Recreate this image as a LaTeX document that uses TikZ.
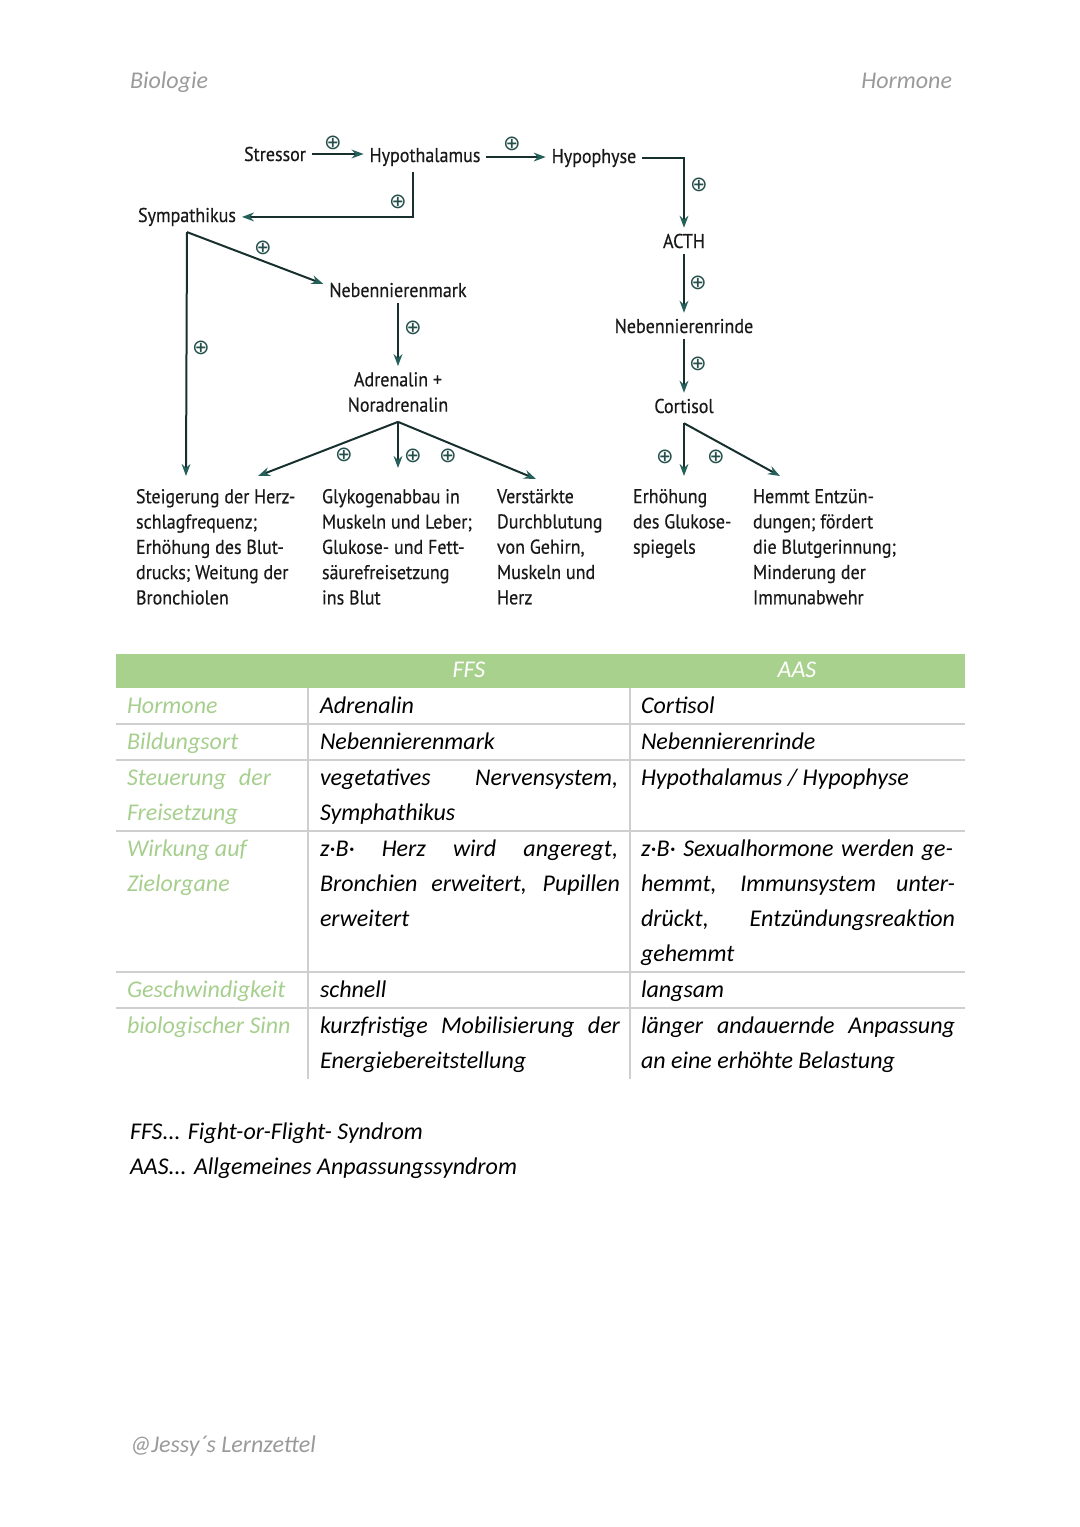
\documentclass[tikz,border=0pt]{standalone}
\usepackage{fontspec}
\setmainfont{PT Sans}
\newfontfamily\diagfont[FakeStretch=0.9, FakeBold=0.4]{PT Sans}
\newfontfamily\handfont{Carlito}
\newfontfamily\symfont{DejaVu Sans}
\usetikzlibrary{arrows.meta}
\definecolor{arrline}{HTML}{17302E}
\definecolor{arrhead}{HTML}{245F5A}
\definecolor{plusc}{HTML}{244F4B}
\definecolor{hdgreen}{HTML}{A9D18E}
\definecolor{lblgreen}{HTML}{A6CF8E}
\definecolor{rulec}{HTML}{CFCFCF}
\definecolor{pagegray}{HTML}{9A9A9A}
\newcommand{\jl}[2]{\makebox[#1][s]{#2}}

\begin{document}
\begin{tikzpicture}[x=0.5pt, y=-0.5pt,
    every node/.style={inner sep=0pt, outer sep=0pt},
    d/.style={font=\diagfont\fontsize{10}{12.65}\selectfont, text=black!90, inner sep=3pt, anchor=base},
    blk/.style={font=\diagfont\fontsize{10}{12.65}\selectfont, text=black!90, anchor=north west, align=left},
    p/.style={text=plusc, font=\symfont\fontsize{10.5}{10.5}\selectfont},
    a/.style={draw=arrline, line width=1pt, -{Stealth[length=6pt, width=4.4pt, color=arrhead]}},
    h/.style={font=\handfont\itshape\fontsize{12}{17.5}\selectfont, anchor=base west},
    lab/.style={h, text=lblgreen},
    gr/.style={draw=rulec, line width=0.8pt},
  ]
  \useasboundingbox (0,0) rectangle (1080,1527);

  % page head and foot
  \node[h, text=pagegray] (subj) at (130,88) {Biologie};
  \node[h, text=pagegray, anchor=base east] (topic) at (952,88) {Hormone};
  \node[h, text=pagegray] (foot) at (130,1452) {@Jessy´s Lernzettel};

  % diagram
  \node[d] (str) at (275,161) {Stressor};
  \node[d] (hth) at (425,162) {Hypothalamus};
  \node[d] (hph) at (594,163) {Hypophyse};
  \node[d] (sym) at (187,222) {Sympathikus};
  \node[d] (nnm) at (398,297) {Nebennierenmark};
  \node[d, anchor=center, align=center] (adr) at (398,392) {Adrenalin +\\Noradrenalin};
  \node[d] (acth) at (684,248) {ACTH};
  \node[d] (nnr) at (684,333) {Nebennierenrinde};
  \node[d] (cort) at (684,413) {Cortisol};

  \node[blk] (wa) at (136,489) {Steigerung der Herz-\\schlagfrequenz;\\Erhöhung des Blut-\\drucks; Weitung der\\Bronchiolen};
  \node[blk] (wb) at (322,489) {Glykogenabbau in\\Muskeln und Leber;\\Glukose- und Fett-\\säurefreisetzung\\ins Blut};
  \node[blk] (wc) at (497,489) {Verstärkte\\Durchblutung\\von Gehirn,\\Muskeln und\\Herz};
  \node[blk] (wd) at (633,489) {Erhöhung\\des Glukose-\\spiegels};
  \node[blk] (we) at (753,489) {Hemmt Entzün-\\dungen; fördert\\die Blutgerinnung;\\Minderung der\\Immunabwehr};

  \coordinate (e1) at (186,476);
  \coordinate (e2) at (258,476);
  \coordinate (e3) at (398,468);
  \coordinate (e4) at (536,479);
  \coordinate (e5) at (684,476);
  \coordinate (e6) at (780,476);

  \draw[a] (str.east) -- (str.east -| hth.west);
  \draw[a] (hth.east) -- (hth.east -| hph.west);
  \draw[a] (hph.east) -| (acth.north);
  \draw[a] (acth.south) -- (nnr.north);
  \draw[a] (nnr.south) -- (cort.north);
  \draw[a] ([xshift=-6pt]hth.south) |- (sym.east);
  \coordinate (sf) at (sym.south);
  \draw[a] (sf) -- (e1);
  \draw[a] (sf) -- ([yshift=3pt]nnm.west);
  \draw[a] (nnm.south) -- (adr.north);
  \coordinate (af) at ([yshift=-2pt]adr.south);
  \draw[a] (af) -- (e2);
  \draw[a] (af) -- (e3);
  \draw[a] (af) -- (e4);
  \coordinate (cf) at ([yshift=-2pt]cort.south);
  \draw[a] (cf) -- (e5);
  \draw[a] (cf) -- (e6);

  \foreach \x/\y [count=\i] in {333/143, 512/144, 699/185, 398/202, 698/283, 263/248, 201/348,
      413/328, 698/364, 344/455, 413/456, 448/456, 665/457, 716/457}
    \node[p] (p\i) at (\x,\y) {⊕};

  % table
  \fill[hdgreen] (116,654) rectangle (965,688);
  \foreach \y in {724,760,831,972,1008}
    \draw[gr] (116,\y) -- (965,\y);
  \foreach \x in {308,630}
    \draw[gr] (\x,688) -- (\x,1079);
  \node[h, text=white, anchor=base] (hffs) at (469,677) {FFS};
  \node[h, text=white, anchor=base] (haas) at (797,677) {AAS};

  \node[lab] (r1) at (127,713) {Hormone};
  \node[lab] (r2) at (127,749) {Bildungsort};
  \node[lab] (r3a) at (127,785) {\jl{72pt}{Steuerung der}};
  \node[lab] (r3b) at (127,820) {Freisetzung};
  \node[lab] (r4a) at (127,856) {Wirkung auf};
  \node[lab] (r4b) at (127,891) {Zielorgane};
  \node[lab] (r5) at (127,997) {Geschwindigkeit};
  \node[lab] (r6) at (127,1033) {biologischer Sinn};

  \node[h] (f1) at (320,713) {Adrenalin};
  \node[h] (f2) at (320,749) {Nebennierenmark};
  \node[h] (f3a) at (320,785) {\jl{149pt}{vegetatives Nervensystem,}};
  \node[h] (f3b) at (320,820) {Symphathikus};
  \node[h] (f4a) at (320,856) {\jl{149pt}{z·B· Herz wird angeregt,}};
  \node[h] (f4b) at (320,891) {\jl{150pt}{Bronchien erweitert, Pupillen}};
  \node[h] (f4c) at (320,926) {erweitert};
  \node[h] (f5) at (320,997) {schnell};
  \node[h] (f6a) at (320,1033) {\jl{150pt}{kurzfristige Mobilisierung der}};
  \node[h] (f6b) at (320,1068) {Energiebereitstellung};

  \node[h] (s1) at (641,713) {Cortisol};
  \node[h] (s2) at (641,749) {Nebennierenrinde};
  \node[h] (s3) at (641,785) {Hypothalamus / Hypophyse};
  \node[h] (s4a) at (641,856) {\jl{156pt}{z·B· Sexualhormone werden ge-}};
  \node[h] (s4b) at (641,891) {\jl{157pt}{hemmt, Immunsystem unter-}};
  \node[h] (s4c) at (641,926) {\jl{157pt}{drückt, Entzündungsreaktion}};
  \node[h] (s4d) at (641,961) {gehemmt};
  \node[h] (s5) at (641,997) {langsam};
  \node[h] (s6a) at (641,1033) {\jl{157pt}{länger andauernde Anpassung}};
  \node[h] (s6b) at (641,1068) {an eine erhöhte Belastung};

  % abbreviations
  \node[h] (n1) at (130,1139) {FFS... Fight-or-Flight- Syndrom};
  \node[h] (n2) at (130,1174) {AAS... Allgemeines Anpassungssyndrom};
\end{tikzpicture}
\end{document}
